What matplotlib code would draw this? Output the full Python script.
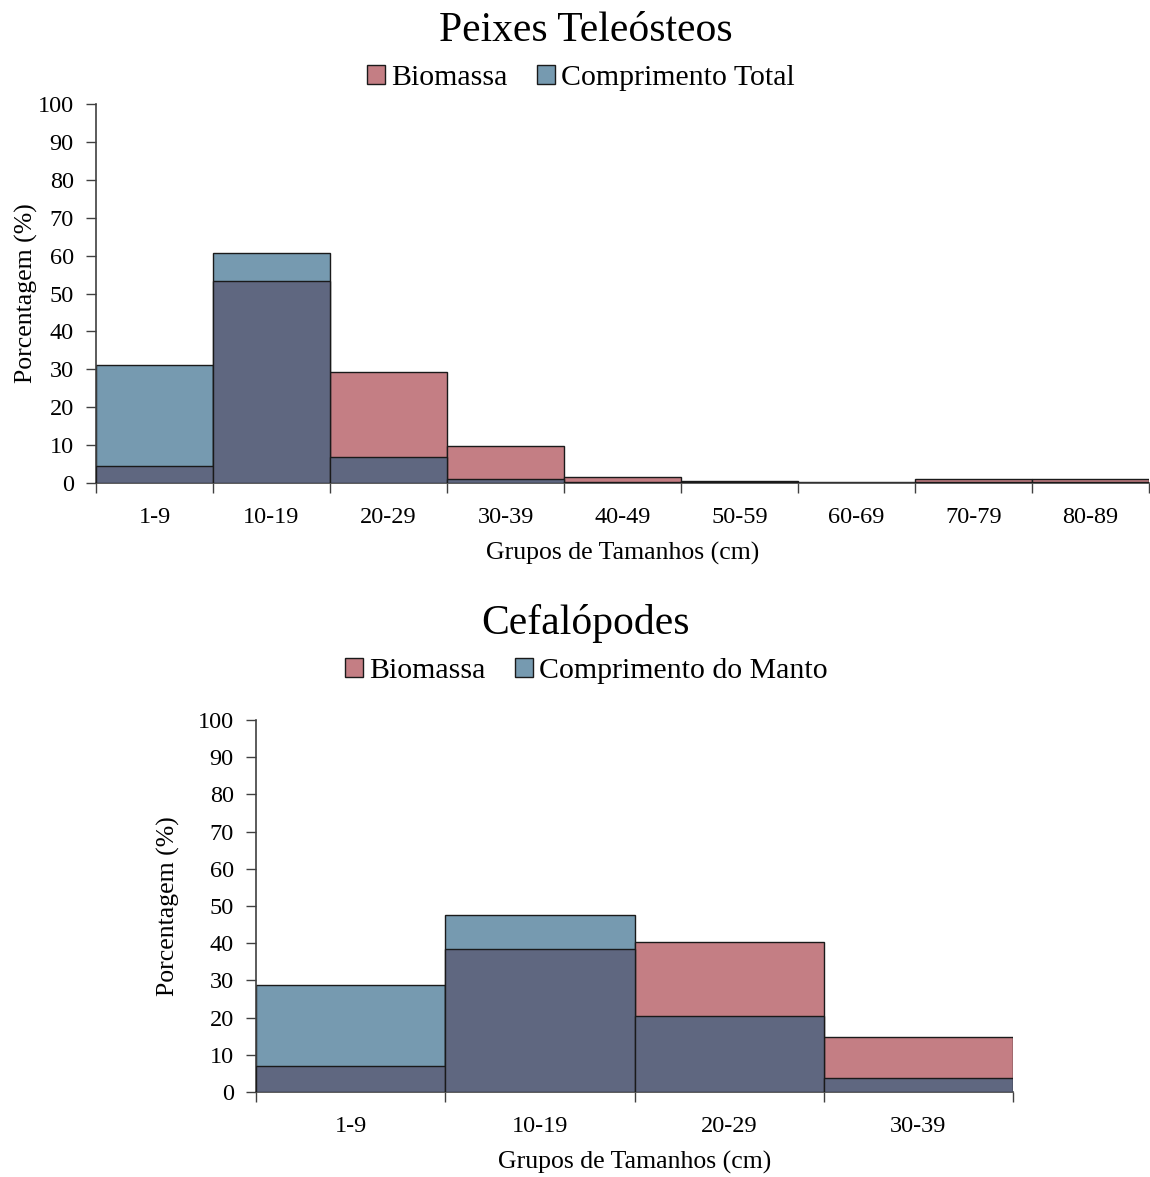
import matplotlib.pyplot as plt
from matplotlib.patches import Patch

plt.rcParams['font.family'] = ['Liberation Serif', 'DejaVu Serif']

# fish data (%)
fish_groups = ['1-9', '10-19', '20-29', '30-39', '40-49', '50-59', '60-69', '70-79', '80-89']
fish_biomassa = [4.4, 53.2, 29.4, 9.8, 1.7, 0.6, 0.2, 1.0, 1.0]
fish_comprimento = [31.1, 60.6, 6.9, 1.1, 0.3, 0.2, 0.1, 0.2, 0.2]

# cephalopod data (%)
ceph_groups = ['1-9', '10-19', '20-29', '30-39']
ceph_biomassa = [7.0, 38.4, 40.3, 14.8]
ceph_comprimento = [28.8, 47.6, 20.4, 3.8]

PINK = '#c47e84'
BLUE = '#769ab0'
DARK = '#5f6780'
EDGE = '#1a1a1a'


def draw_panel(ax, groups, bio, comp):
    n = len(groups)
    x = list(range(n))
    for i in x:
        b, c = bio[i], comp[i]
        top_col = PINK if b >= c else BLUE
        ax.bar(i, max(b, c), width=1.0, color=top_col, edgecolor=EDGE, linewidth=1.0, zorder=2)
        ax.bar(i, min(b, c), width=1.0, color=DARK, edgecolor=EDGE, linewidth=1.0, zorder=3)
    ax.set_xlim(-0.5, n - 0.5)
    ax.set_ylim(0, 100)
    ax.set_yticks(range(0, 101, 10))
    ax.set_xticks(x)
    ax.set_xticklabels(groups)
    ax.set_xticks([i - 0.5 for i in range(n + 1)], minor=True)
    ax.tick_params(axis='x', which='major', length=0, pad=17, labelsize=17.5)
    ax.tick_params(axis='x', which='minor', length=7, width=1.0, color='#404040')
    ax.tick_params(axis='y', length=7, width=1.0, color='#404040', labelsize=17.5, pad=9)
    for s in ['top', 'right']:
        ax.spines[s].set_visible(False)
    for s in ['left', 'bottom']:
        ax.spines[s].set_color('#404040')
        ax.spines[s].set_linewidth(1.2)
    ax.set_xlabel('Grupos de Tamanhos (cm)', fontsize=18.5, labelpad=10)
    ax.set_ylabel('Porcentagem (%)', fontsize=18.5)


fig = plt.figure(figsize=(11.5, 11.77), dpi=100)

ax1 = fig.add_axes([0.0835, 0.5896, 0.9157, 0.322])
draw_panel(ax1, fish_groups, fish_biomassa, fish_comprimento)
ax1.yaxis.set_label_coords(-0.055, 0.5)

ax2 = fig.add_axes([0.2226, 0.0722, 0.6583, 0.316])
draw_panel(ax2, ceph_groups, ceph_biomassa, ceph_comprimento)
ax2.yaxis.set_label_coords(-0.1, 0.5)

fig.text(0.509, 0.974, 'Peixes Teleósteos', ha='center', va='center', fontsize=30)
fig.text(0.509, 0.470, 'Cefalópodes', ha='center', va='center', fontsize=30)

h1 = [Patch(facecolor=PINK, edgecolor=EDGE, label='Biomassa'),
      Patch(facecolor=BLUE, edgecolor=EDGE, label='Comprimento Total')]
fig.legend(handles=h1, loc='center', bbox_to_anchor=(0.505, 0.934), ncol=2, frameon=False,
           fontsize=21.5, handlelength=0.6, handleheight=0.6, handletextpad=0.2, columnspacing=1.0)

h2 = [Patch(facecolor=PINK, edgecolor=EDGE, label='Biomassa'),
      Patch(facecolor=BLUE, edgecolor=EDGE, label='Comprimento do Manto')]
fig.legend(handles=h2, loc='center', bbox_to_anchor=(0.51, 0.430), ncol=2, frameon=False,
           fontsize=21.5, handlelength=0.6, handleheight=0.6, handletextpad=0.2, columnspacing=1.0)

fig.savefig('out.png', dpi=100)
